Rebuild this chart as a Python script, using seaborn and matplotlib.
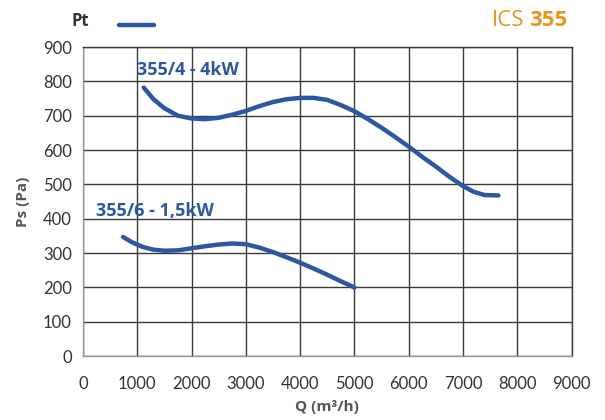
import seaborn as sns
import matplotlib.pyplot as plt
import pandas as pd

# curva 355/4 - 4kW
q_4 = [1120, 1300, 1500, 1750, 2000, 2250, 2500, 2750, 3000, 3250, 3500, 3750, 4000,
       4250, 4500, 4750, 5000, 5250, 5500, 5750, 6000, 6250, 6500, 6750, 7000, 7200, 7400, 7650]
ps_4 = [782, 748, 722, 700, 692, 690, 694, 703, 714, 728, 740, 748, 752,
        752, 746, 731, 713, 690, 665, 638, 610, 580, 552, 522, 495, 478, 469, 468]

# curva 355/6 - 1,5kW
q_6 = [740, 900, 1100, 1300, 1500, 1750, 2000, 2250, 2500, 2750, 3000, 3250, 3500,
       3750, 4000, 4250, 4500, 4750, 5000]
ps_6 = [347, 332, 318, 310, 307, 308, 314, 320, 325, 328, 326, 316, 303,
        288, 272, 255, 237, 218, 200]

x_ticks = list(range(0, 9001, 1000))
y_ticks = list(range(0, 901, 100))

azul = "#2b58a0"
cinza = "#555555"
laranja = "#e8951c"
negrito = ['Open Sans', 'DejaVu Sans']

sns.set_style("white")
plt.rcParams['font.family'] = ['Lato', 'DejaVu Sans']

fig = plt.figure(figsize=(6.05, 4.2), dpi=100)
ax = fig.add_axes([0.137, 0.152, 0.808, 0.736])

df4 = pd.DataFrame({"Q": q_4, "Ps": ps_4})
df6 = pd.DataFrame({"Q": q_6, "Ps": ps_6})
sns.lineplot(data=df4, x="Q", y="Ps", ax=ax, color=azul, linewidth=3.2, solid_capstyle="round")
sns.lineplot(data=df6, x="Q", y="Ps", ax=ax, color=azul, linewidth=3.2, solid_capstyle="round")

ax.set_xlim(0, 9000)
ax.set_ylim(0, 900)
ax.set_xticks(x_ticks)
ax.set_yticks(y_ticks)
ax.grid(True, color="#3a3a3a", linewidth=1.0)
ax.set_axisbelow(True)
for s in ax.spines.values():
    s.set_color("#3a3a3a")
    s.set_linewidth(1.0)
ax.spines["left"].set_color("#999999")
ax.spines["bottom"].set_color("#999999")
ax.tick_params(axis="y", length=0, labelsize=12, labelcolor="#333333", pad=8)
ax.tick_params(axis="x", length=0, labelsize=12, labelcolor="#333333", pad=14)

ax.set_xlabel("Q (m³/h)", fontsize=11, fontweight="bold", color=cinza, labelpad=6, family=negrito)
ax.set_ylabel("Ps (Pa)", fontsize=11, fontweight="bold", color=cinza, labelpad=9, family=negrito)

ax.text(1000, 832, "355/4 - 4kW", fontsize=13, fontweight="bold", color=azul, va="center", family=negrito)
ax.text(250, 422, "355/6 - 1,5kW", fontsize=13, fontweight="bold", color=azul, va="center", family=negrito)

fig.text(0.119, 0.950, "Pt", fontsize=12, fontweight="bold", color="#333333", va="center", family=negrito)
fig.add_artist(plt.Line2D([0.197, 0.254], [0.940, 0.940], color=azul, linewidth=3.2,
                          solid_capstyle="round", transform=fig.transFigure))
fig.text(0.866, 0.950, "ICS", fontsize=16, color=laranja, va="center", ha="right", family=negrito)
fig.text(0.874, 0.950, "355", fontsize=16, fontweight="bold", color=laranja, va="center", family=negrito)

fig.savefig("out.png", dpi=100)
